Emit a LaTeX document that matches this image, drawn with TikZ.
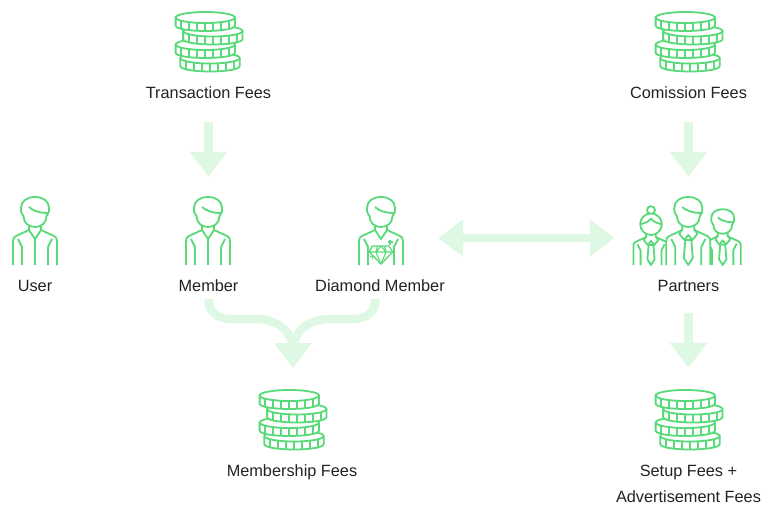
\documentclass[tikz,border=0pt]{standalone}
\usepackage{fontspec}
\setmainfont{Liberation Sans}
\usetikzlibrary{arrows.meta}
\definecolor{icongreen}{HTML}{58DA78}
\definecolor{arrowgreen}{HTML}{DEF8E3}
\definecolor{labelink}{HTML}{222222}
\newcommand\coindraw[2]{%
  \draw[iconline,fill=white] (#1-29.7,#2) -- (#1-29.7,#2+8)
    .. controls (#1-29.7,#2+15.3) and (#1+29.7,#2+15.3) .. (#1+29.7,#2+8) -- (#1+29.7,#2) -- cycle;
  \foreach \tx in {-24,-16,-8,0,8,16,24}
    \draw[iconline] ({#1+\tx},{#2+5.5*sqrt(1-(\tx/29.7)*(\tx/29.7))}) -- ({#1+\tx},{#2+8+5.5*sqrt(1-(\tx/29.7)*(\tx/29.7))});
  \draw[iconline,fill=white] (#1,#2) ellipse [x radius=29.7,y radius=5.5];
}
\newcommand\manhead{%
  \draw[iconline,fill=white] (-11.5,19) .. controls (-14,16) and (-14.5,13) .. (-14,11)
    .. controls (-14,4) and (-8,0) .. (0,0)
    .. controls (8,0) and (14,4) .. (14,11)
    .. controls (14.5,13) and (14,16) .. (11.5,19)
    .. controls (11.5,26) and (6,30) .. (0,30) .. controls (-6,30) and (-11.5,26) .. (-11.5,19) -- cycle;
  \draw[iconline] (-6,10) .. controls (-2,14) and (5,16) .. (13.5,16);
}
\newcommand\manbody{%
  \fill[white] (-22,68) -- (-22,44) -- (-19,39) -- (-6,33) -- (-6,25) -- (6,25) -- (6,33) -- (19,39) -- (22,44) -- (22,68) -- cycle;
  \foreach \s in {1,-1}{
    \begin{scope}[xscale=\s]
      \draw[iconline] (-22,68) -- (-22,44) .. controls (-22,41) and (-21,40) .. (-19,39) -- (-6,33) -- (-6,29);
      \draw[iconline] (-17,42) -- (-13,50) -- (-13,68);
    \end{scope}}
}
\newcommand\mantie{%
  \draw[iconline] (-6,32) -- (-9,37) -- (-4,43) -- (0,38) -- (4,43) -- (9,37) -- (6,32);
  \draw[iconline] (-3,43) -- (-4.5,61) -- (0,68) -- (4.5,61) -- (3,43) -- cycle;
}
\tikzset{
  x=1pt,y=-1pt,
  iconline/.style={draw=icongreen,line width=1.8pt,line join=round},
  bigarrow/.style={draw=arrowgreen,line width=8.5pt,line cap=butt,-{Triangle[length=25pt,width=36pt]}},
  bothways/.style={draw=arrowgreen,line width=8.5pt,line cap=butt,{Triangle[length=25pt,width=36pt]}-{Triangle[length=25pt,width=36pt]}},
  label text/.style={font=\fontsize{16.3}{16.3}\selectfont,text=labelink,inner sep=0pt,text height=12pt,text depth=4pt},
  iconbox/.style={inner sep=0pt,minimum width=#1,minimum height=70pt},
  iconbox/.default=50pt,
  pics/coins/.style={code={
    \coindraw{1}{46}
    \coindraw{-3.7}{32.5}
    \coindraw{3.8}{19}
    \coindraw{-3.7}{5.5}
  }},
  pics/plainman/.style={code={
    \manbody
    \draw[iconline] (-6,33) -- (0,42) -- (6,33);
    \draw[iconline] (0,42) -- (0,68);
    \manhead
  }},
  pics/diamondman/.style={code={
    \manbody
    \draw[iconline] (-6,33) -- (0,42) -- (6,33);
    \manhead
    \draw[iconline,fill=white,line width=1.3pt] (-8.7,49) -- (8,49) -- (11.7,55) -- (0,67) -- (-11.7,55) -- cycle;
    \draw[iconline,line width=1.1pt] (-11.7,55) -- (11.7,55) (-3.5,49) -- (-5,55) -- (0,67) -- (5,55) -- (3.5,49) (0,49) -- (-5,55) (0,49) -- (5,55);
    \draw[iconline,line width=1.2pt] (9,42.5) -- (9,47.5) (6.5,45) -- (11.5,45) (-8.7,57) -- (-8.7,62) (-11.2,59.5) -- (-6.2,59.5);
  }},
  pics/tieman/.style={code={
    \manbody
    \mantie
    \manhead
  }},
  pics/tiewoman/.style={code={
    \manbody
    \mantie
    \draw[iconline,fill=white] (0,-0.6) circle [radius=5];
    \draw[iconline,fill=white] (0,17) circle [radius=13.5];
    \draw[iconline] (-13.5,17) .. controls (-8,16) and (-3,14) .. (0,10) .. controls (3,14) and (8,16) .. (13.5,17);
  }},
}
\begin{document}
\begin{tikzpicture}[x=1pt,y=-1pt]
\useasboundingbox (0,0) rectangle (762,504);
% icon areas
\node[iconbox] (transicon) at (208.5,47) {};
\node[iconbox] (comicon) at (688.5,47) {};
\node[iconbox] (usericon) at (35,231) {};
\node[iconbox] (membericon) at (208.5,231) {};
\node[iconbox] (diamondicon) at (380,238) {};
\node[iconbox=108pt] (partnersicon) at (688.5,238) {};
\node[iconbox] (memfeesicon) at (293,425) {};
\node[iconbox] (setupicon) at (688.5,425) {};
% icons
\pic at (209,12) {coins};
\pic at (689,12) {coins};
\pic at (293,390) {coins};
\pic at (689,390) {coins};
\pic at (35,197) {plainman};
\pic at (208,197) {plainman};
\pic at (381,197) {diamondman};
\pic[scale=.82] at (722.7,209.2) {tieman};
\pic[scale=.8] at (651,210.6) {tiewoman};
\pic at (688.3,197) {tieman};
% labels
\node[label text] (translabel) at (208.5,94) {Transaction Fees};
\node[label text] (comlabel) at (688.5,94) {Comission Fees};
\node[label text] (userlabel) at (35,287) {User};
\node[label text] (memberlabel) at (208.5,287) {Member};
\node[label text] (diamondlabel) at (380,287) {Diamond Member};
\node[label text] (partnerslabel) at (688.5,287) {Partners};
\node[label text] (memfeeslabel) at (292,472) {Membership Fees};
\node[label text] (setuplabel) at (688.5,472) {Setup Fees +};
\node[label text] (advlabel) at (688.5,498) {Advertisement Fees};
% connectors
\draw[bigarrow,shorten <=20pt,shorten >=19pt] (translabel.south) -- (membericon.north);
\draw[bigarrow,shorten <=20pt,shorten >=26pt] (comlabel.south) -- (partnersicon.north);
\draw[bigarrow,shorten <=18pt,shorten >=22pt] (partnerslabel.south) -- (setupicon.north);
\draw[bothways,shorten <=33pt,shorten >=19.5pt] (diamondicon.east) -- (partnersicon.west);
\coordinate (mergetip) at (293,368);
\coordinate (mergeleft) at (232,319);
\coordinate (mergeleftb) at (256,319);
\coordinate (mergeright) at (352,319);
\coordinate (mergerightb) at (330,319);
\draw[bigarrow,shorten <=4pt] (memberlabel.south) .. controls (208.5,312) and (218,319) .. (mergeleft) -- (mergeleftb) .. controls (276,319) and (293,330) .. (293,351) -- (mergetip);
\draw[bigarrow,shorten <=4pt] (375.5,295) .. controls (375.5,312) and (366,319) .. (mergeright) -- (mergerightb) .. controls (310,319) and (293,330) .. (293,351) -- (mergetip);
\end{tikzpicture}
\end{document}
